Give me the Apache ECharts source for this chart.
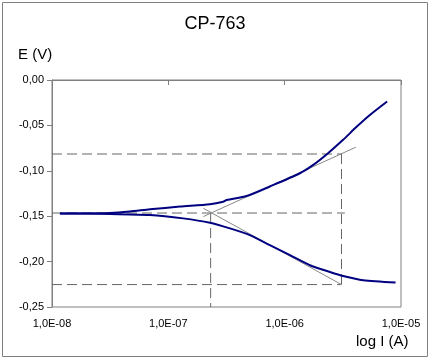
<!DOCTYPE html>
<html>
<head>
<meta charset="utf-8">
<script src="https://cdn.jsdelivr.net/npm/echarts@6/dist/echarts.min.js"></script>
<style>
html,body{margin:0;padding:0;background:#fff;}
#chart{width:430px;height:360px;}
</style>
</head>
<body>
<div id="chart"></div>
<script>
// Anodic branch (upper curve)
const anodicI = [1.17e-8, 1.74e-8, 3.15e-8, 4.68e-8, 6.95e-8, 1.26e-7, 2.28e-7, 2.96e-7, 3.17e-7, 4.71e-7, 7.46e-7, 1.35e-6, 1.76e-6, 2.36e-6, 3.18e-6, 4.15e-6, 5.40e-6, 7.60e-6];
const anodicE = [-0.1469, -0.1469, -0.1465, -0.1449, -0.1424, -0.1394, -0.1369, -0.1341, -0.1322, -0.1278, -0.1173, -0.1027, -0.0935, -0.0806, -0.0659, -0.0516, -0.0385, -0.0236];
// Cathodic branch (lower curve)
const cathodicI = [1.17e-8, 1.74e-8, 3.15e-8, 6.95e-8, 1.34e-7, 2.28e-7, 3.38e-7, 5.02e-7, 7.46e-7, 1.11e-6, 1.65e-6, 2.45e-6, 3.18e-6, 4.73e-6, 8.98e-6];
const cathodicE = [-0.1471, -0.1471, -0.1476, -0.1487, -0.1524, -0.1572, -0.1634, -0.1708, -0.1819, -0.1929, -0.2040, -0.2114, -0.2158, -0.2205, -0.2230];
// Tafel tangents
const anodicTangentI = [2.0e-7, 4.09e-6];
const anodicTangentE = [-0.1504, -0.0740];
const cathodicTangentI = [2.0e-7, 3.08e-6];
const cathodicTangentE = [-0.1413, -0.2253];
// Construction (dashed) lines
const hTopI = [1e-8, 3.08e-6], hTopE = [-0.0815, -0.0815];
const hMidI = [1e-8, 3.29e-6], hMidE = [-0.1465, -0.1465];
const hBotI = [1e-8, 3.08e-6], hBotE = [-0.2253, -0.2253];
const vLeftI = [2.31e-7, 2.31e-7], vLeftE = [-0.1465, -0.25];
const vRightI = [3.08e-6, 3.08e-6], vRightE = [-0.0815, -0.2253];
// Axis
const xTicks = ['1,0E-08', '1,0E-07', '1,0E-06', '1,0E-05'];
const yMin = -0.25, yMax = 0, yStep = 0.05;
const titleText = 'CP-763';
const yName = 'E (V)';
const xName = 'log I (A)';

function pairs(xs, ys) { return xs.map((x, i) => [x, ys[i]]); }

const FONT = '"Liberation Sans", Arial, sans-serif';
const dashStyle = { color: '#666', width: 1, type: [10, 5] };
const tanStyle = { color: '#888', width: 1 };
const curveStyle = { color: '#000080', width: 2 };

function lineSeries(data, style, smooth) {
  return { type: 'line', data: data, showSymbol: false, symbol: 'none', smooth: smooth || false,
    lineStyle: style, itemStyle: { color: style.color }, silent: true, animation: false };
}

const chart = echarts.init(document.getElementById('chart'));
chart.setOption({
  animation: false,
  backgroundColor: '#fff',
  grid: { left: 52, right: 29, top: 80, bottom: 53, show: true, borderColor: '#808080', borderWidth: 1, backgroundColor: 'transparent' },
  xAxis: {
    type: 'log', logBase: 10, min: 1e-8, max: 1e-5,
    axisLine: { lineStyle: { color: '#808080' } },
    axisTick: { show: true, length: 5, lineStyle: { color: '#808080' } },
    splitLine: { show: false },
    axisLabel: { color: '#000', fontFamily: FONT, fontSize: 11, margin: 11,
      formatter: function (v) { const e = Math.round(Math.log10(v)); return xTicks[e + 8] || ''; } }
  },
  yAxis: {
    type: 'value', min: yMin, max: yMax, interval: yStep,
    axisLine: { show: true, lineStyle: { color: '#808080' } },
    axisTick: { show: true, length: 5, lineStyle: { color: '#808080' } },
    splitLine: { show: false },
    axisLabel: { color: '#000', fontFamily: FONT, fontSize: 11, margin: 8,
      formatter: function (v) { return (Math.abs(v) < 1e-9 ? 0 : v).toFixed(2).replace('.', ','); } }
  },
  series: [
    lineSeries(pairs(hTopI, hTopE), dashStyle),
    lineSeries(pairs(hMidI, hMidE), dashStyle),
    lineSeries(pairs(hBotI, hBotE), dashStyle),
    lineSeries(pairs(vLeftI, vLeftE), dashStyle),
    lineSeries(pairs(vRightI, vRightE), dashStyle),
    lineSeries(pairs(anodicTangentI, anodicTangentE), tanStyle),
    lineSeries(pairs(cathodicTangentI, cathodicTangentE), tanStyle),
    lineSeries(pairs(anodicI, anodicE), curveStyle, 0.25),
    lineSeries(pairs(cathodicI, cathodicE), curveStyle, 0.25)
  ],
  graphic: [
    { type: 'rect', shape: { x: 2.5, y: 2.5, width: 425, height: 354 }, style: { fill: 'none', stroke: '#808080', lineWidth: 1 }, silent: true },
    { type: 'text', left: 'center', top: 15, style: { text: titleText, font: '18px ' + FONT, fill: '#000' } },
    { type: 'text', left: 18, top: 47, style: { text: yName, font: '15px ' + FONT, fill: '#000' } },
    { type: 'text', left: 356, top: 334, style: { text: xName, font: '15px ' + FONT, fill: '#000' } }
  ]
});
</script>
</body>
</html>
